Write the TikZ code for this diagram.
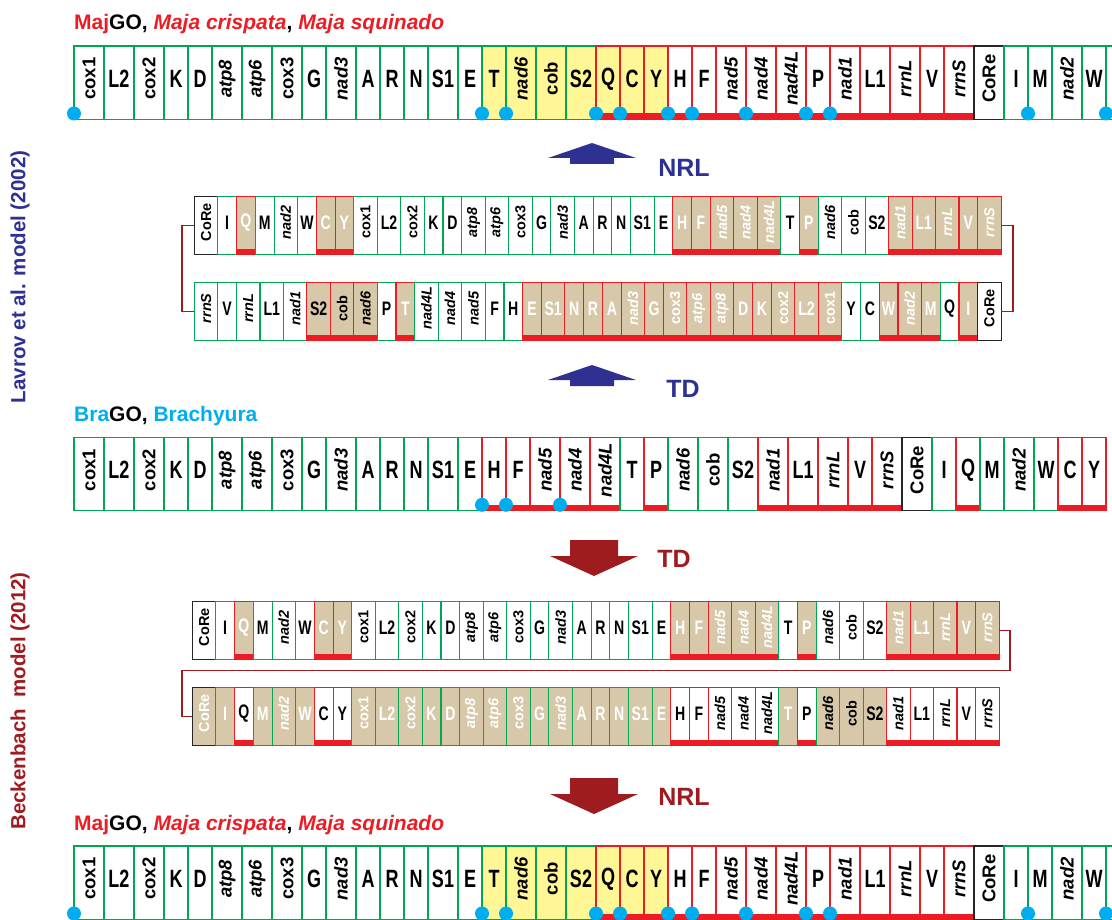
\documentclass[tikz,border=0pt]{standalone}
\usepackage{fontspec}
\setmainfont{Liberation Sans}
\newfontfamily\genefont{Liberation Sans}[FakeStretch=0.72]
\usetikzlibrary{positioning}
\definecolor{mtgreen}{RGB}{0,166,81}
\definecolor{mtred}{RGB}{237,28,36}
\definecolor{mtyellow}{RGB}{255,247,150}
\definecolor{mttan}{RGB}{214,200,168}
\definecolor{mtblue}{RGB}{0,174,239}
\definecolor{mtnavy}{RGB}{46,49,146}
\definecolor{mtmaroon}{RGB}{158,27,32}

\newcommand{\genesize}{\genefont\bfseries\fontsize{25}{30}\selectfont}
\newcommand{\rotsize}{\bfseries\fontsize{18.5}{22}\selectfont}

% gene orders: label/kind/strand/fill
\newcommand{\ordermaj}{cox1/c/g/w, L2/s/g/w, cox2/c/g/w, K/t/g/w, D/t/g/w, atp8/i/g/w, atp6/i/g/w, cox3/c/g/w, G/t/g/w, nad3/i/g/w, A/t/g/w, R/t/g/w, N/t/g/w, S1/s/g/w, E/t/g/w, T/t/g/y, nad6/i/g/y, cob/c/g/y, S2/s/g/y, Q/t/r/y, C/t/r/y, Y/t/r/y, H/t/r/w, F/t/r/w, nad5/i/r/w, nad4/i/r/w, nad4L/i/r/w, P/t/r/w, nad1/i/r/w, L1/s/r/w, rrnL/i/r/w, V/t/r/w, rrnS/i/r/w, CoRe/c/k/w, I/t/g/w, M/t/g/w, nad2/i/g/w, W/t/g/w, /c/g/w}
\newcommand{\orderbra}{cox1/c/g/w, L2/s/g/w, cox2/c/g/w, K/t/g/w, D/t/g/w, atp8/i/g/w, atp6/i/g/w, cox3/c/g/w, G/t/g/w, nad3/i/g/w, A/t/g/w, R/t/g/w, N/t/g/w, S1/s/g/w, E/t/g/w, H/t/r/w, F/t/r/w, nad5/i/r/w, nad4/i/r/w, nad4L/i/r/w, T/t/g/w, P/t/r/w, nad6/i/g/w, cob/c/g/w, S2/s/g/w, nad1/i/r/w, L1/s/r/w, rrnL/i/r/w, V/t/r/w, rrnS/i/r/w, CoRe/c/k/w, I/t/g/w, Q/t/r/w, M/t/g/w, nad2/i/g/w, W/t/g/w, C/t/r/w, Y/t/r/w}
\newcommand{\orderhalf}{CoRe/c/k/w, I/t/g/w, Q/t/r/t, M/t/g/w, nad2/i/g/w, W/t/g/w, C/t/r/t, Y/t/r/t, cox1/c/g/w, L2/s/g/w, cox2/c/g/w, K/t/g/w, D/t/g/w, atp8/i/g/w, atp6/i/g/w, cox3/c/g/w, G/t/g/w, nad3/i/g/w, A/t/g/w, R/t/g/w, N/t/g/w, S1/s/g/w, E/t/g/w, H/t/r/t, F/t/r/t, nad5/i/r/t, nad4/i/r/t, nad4L/i/r/t, T/t/g/w, P/t/r/t, nad6/i/g/w, cob/c/g/w, S2/s/g/w, nad1/i/r/t, L1/s/r/t, rrnL/i/r/t, V/t/r/t, rrnS/i/r/t}
\newcommand{\orderflip}{rrnS/i/g/w, V/t/g/w, rrnL/i/g/w, L1/s/g/w, nad1/i/g/w, S2/s/r/d, cob/c/r/d, nad6/i/r/d, P/t/g/w, T/t/r/t, nad4L/i/g/w, nad4/i/g/w, nad5/i/g/w, F/t/g/w, H/t/g/w, E/t/r/t, S1/s/r/t, N/t/r/t, R/t/r/t, A/t/r/t, nad3/i/r/t, G/t/r/t, cox3/c/r/t, atp6/i/r/t, atp8/i/r/t, D/t/r/t, K/t/r/t, cox2/c/r/t, L2/s/r/t, cox1/c/r/t, Y/t/g/w, C/t/g/w, W/t/r/t, nad2/i/r/t, M/t/r/t, Q/t/g/w, I/t/r/t, CoRe/c/k/w}
\newcommand{\ordermove}{CoRe/c/k/t, I/t/g/t, Q/t/r/w, M/t/g/t, nad2/i/g/t, W/t/g/t, C/t/r/w, Y/t/r/w, cox1/c/g/t, L2/s/g/t, cox2/c/g/t, K/t/g/t, D/t/g/t, atp8/i/g/t, atp6/i/g/t, cox3/c/g/t, G/t/g/t, nad3/i/g/t, A/t/g/t, R/t/g/t, N/t/g/t, S1/s/g/t, E/t/g/t, H/t/r/w, F/t/r/w, nad5/i/r/w, nad4/i/r/w, nad4L/i/r/w, T/t/g/t, P/t/r/w, nad6/i/g/d, cob/c/g/d, S2/s/g/d, nad1/i/r/w, L1/s/r/w, rrnL/i/r/w, V/t/r/w, rrnS/i/r/w}

% one row of boxes, each placed against the previous one
\newcommand{\generow}[2]{%
  \foreach \lab/\k/\s/\f [count=\i, remember=\i as \j (initially 0)] in #2 {
    \ifnum\i=1\relax
      \node[gene, gene \k, str \s, bg \f, anchor=north west] (#1-\i) at (0,0) {};
    \else
      \node[gene, gene \k, str \s, bg \f, anchor=north west] (#1-\i) at (#1-\j.north east) {};
    \fi
    \node[glabel, lab \k, ink \f] (#1-\i-l) at ([yshift=4pt]#1-\i.center) {\lab};
  }%
}

\tikzset{
  gene/.style={rectangle, inner sep=0pt, outer sep=0pt, minimum height=73.5, line width=1.1pt},
  gene t/.style={minimum width=24},
  gene s/.style={minimum width=30},
  gene c/.style={minimum width=30},
  gene i/.style={minimum width=30},
  str g/.style={draw=mtgreen},
  str k/.style={draw=black!85},
  str r/.style={draw=mtred, path picture={
      \fill[mtred] ([yshift=6pt]path picture bounding box.south west)
        rectangle (path picture bounding box.south east);}},
  bg w/.style={fill=white},
  bg y/.style={fill=mtyellow},
  bg t/.style={fill=mttan},
  bg d/.style={fill=mttan},
  glabel/.style={inner sep=0pt, font=\genesize},
  lab t/.style={},
  lab s/.style={},
  lab c/.style={rotate=90, font=\rotsize},
  lab i/.style={rotate=90, font=\rotsize\itshape},
  ink w/.style={text=black},
  ink y/.style={text=black},
  ink t/.style={text=white},
  ink d/.style={text=black},
  bp/.style={fill=mtblue},
  link/.style={draw=mtmaroon, line width=1.8pt},
  title/.style={inner sep=0pt, anchor=base west, font=\bfseries\fontsize{21}{25}\selectfont},
  event/.style={inner sep=0pt, font=\bfseries\fontsize{25}{30}\selectfont},
  model/.style={inner sep=0pt, rotate=90, font=\bfseries\fontsize{20.5}{24}\selectfont},
}

\begin{document}
\begin{tikzpicture}[x=1pt, y=1pt]
  \useasboundingbox (0,0) rectangle (1112,-920);
  \clip (0,0) rectangle (1112,-920);

  % side labels
  \node[model, text=mtnavy] (lavrov) at (20,-277) {Lavrov et al. model (2002)};
  \node[model, text=mtmaroon] (beck) at (20,-701) {Beckenbach\ \ model (2012)};

  % MajGO (top)
  \node[title] (majtop) at (74,-30) {\textcolor{mtred}{Maj}GO, \textcolor{mtred}{\itshape Maja crispata}, \textcolor{mtred}{\itshape Maja squinado}};
  \begin{scope}[shift={(74,-46)}]
    \generow{r1}{\ordermaj}
  \end{scope}
  \foreach \n in {1,16,17,20,21,23,24,26,28,29,36,39}
    \fill[bp] ([yshift=6pt]r1-\n.south west) circle (7);

  % Lavrov et al.: NRL up
  \fill[mtnavy] (592,-143) -- (636,-158) -- (614,-158) -- (614,-164) -- (570,-164) -- (570,-158) -- (548,-158) -- cycle;
  \node[event, text=mtnavy] (nrlup) at (684,-168) {NRL};

  \begin{scope}[shift={(194.3,-196.7)}, scale=0.782, transform shape]
    \generow{r2}{\orderhalf}
  \end{scope}
  \begin{scope}[shift={(194.3,-282.7)}, scale=0.782, transform shape]
    \generow{r3}{\orderflip}
  \end{scope}
  \draw[link] (r2-38.east) -- ++(12,0) |- (r3-38.east);
  \draw[link] (r2-1.west) -- ++(-12,0) |- (r3-1.west);

  % Lavrov et al.: TD up
  \fill[mtnavy] (592,-365) -- (636,-380) -- (614,-380) -- (614,-386) -- (570,-386) -- (570,-380) -- (548,-380) -- cycle;
  \node[event, text=mtnavy] (tdup) at (683,-389) {TD};

  % BraGO
  \node[title] (bratitle) at (74,-421) {\textcolor{mtblue}{Bra}GO, \textcolor{mtblue}{Brachyura}};
  \begin{scope}[shift={(74,-437.3)}]
    \generow{r4}{\orderbra}
  \end{scope}
  \foreach \n in {16,17,19}
    \fill[bp] ([yshift=6pt]r4-\n.south west) circle (7);

  % Beckenbach: TD down
  \fill[mtmaroon] (570,-540) -- (618,-540) -- (618,-556) -- (638,-556) -- (594,-576) -- (550,-556) -- (570,-556) -- cycle;
  \node[event, text=mtmaroon] (tddown) at (674,-559) {TD};

  \begin{scope}[shift={(192.3,-601.7)}, scale=0.782, transform shape]
    \generow{r5}{\orderhalf}
  \end{scope}
  \begin{scope}[shift={(192.3,-687.7)}, scale=0.782, transform shape]
    \generow{r6}{\ordermove}
  \end{scope}
  \draw[link] (r5-38.east) -- ++(11,0) -- ++(0,-40) -| ([xshift=-10pt]r6-1.west) -- (r6-1.west);

  % Beckenbach: NRL down
  \fill[mtmaroon] (570,-778) -- (618,-778) -- (618,-794) -- (638,-794) -- (594,-814) -- (550,-794) -- (570,-794) -- cycle;
  \node[event, text=mtmaroon] (nrldown) at (684,-797) {NRL};

  % MajGO (bottom)
  \node[title] (majbot) at (74,-830) {\textcolor{mtred}{Maj}GO, \textcolor{mtred}{\itshape Maja crispata}, \textcolor{mtred}{\itshape Maja squinado}};
  \begin{scope}[shift={(74,-846)}]
    \generow{r7}{\ordermaj}
  \end{scope}
  \foreach \n in {1,16,17,20,21,23,24,26,28,29,36,39}
    \fill[bp] ([yshift=6pt]r7-\n.south west) circle (7);
\end{tikzpicture}
\end{document}
